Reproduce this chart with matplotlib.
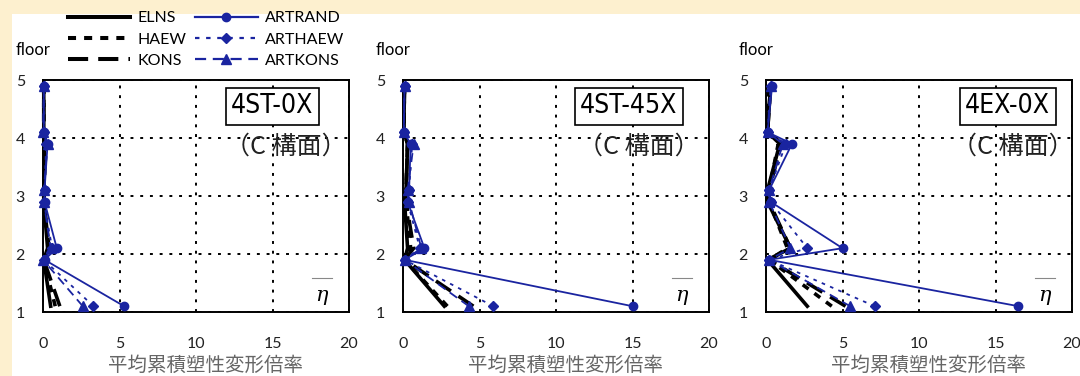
import matplotlib
matplotlib.use("Agg")
import matplotlib.pyplot as plt
from matplotlib.lines import Line2D
from matplotlib.patches import Rectangle

# ── Data ──────────────────────────────────────────────────────────────────────

# plotted heights: bottom / top end of each storey column
floor_pos = [1.1, 1.9, 2.1, 2.9, 3.1, 3.9, 4.1, 4.9]

panel_names = ["4ST-0X", "4ST-45X", "4EX-0X"]

# 4ST-0X
elns_1    = [0.5, 0.05, 0.3, 0.05, 0.05, 0.1, 0.05, 0.05]
haew_1    = [0.8, 0.05, 0.4, 0.05, 0.05, 0.15, 0.05, 0.05]
kons_1    = [1.1, 0.05, 0.4, 0.05, 0.05, 0.2, 0.05, 0.05]
artrand_1 = [5.3, 0.1, 0.9, 0.1, 0.1, 0.3, 0.05, 0.05]
arthaew_1 = [3.3, 0.05, 0.6, 0.05, 0.1, 0.2, 0.05, 0.05]
artkons_1 = [2.6, 0.0, 0.5, 0.05, 0.05, 0.3, 0.0, 0.05]

# 4ST-45X
elns_2    = [2.7, 0.1, 0.3, 0.1, 0.2, 0.3, 0.05, 0.1]
haew_2    = [2.9, 0.1, 0.5, 0.2, 0.2, 0.3, 0.05, 0.1]
kons_2    = [4.6, 0.1, 0.7, 0.2, 0.2, 0.3, 0.05, 0.1]
artrand_2 = [15.0, 0.1, 1.4, 0.3, 0.4, 0.5, 0.05, 0.1]
arthaew_2 = [5.9, 0.1, 1.1, 0.3, 0.4, 0.6, 0.05, 0.1]
artkons_2 = [4.3, 0.1, 1.2, 0.4, 0.3, 0.7, 0.05, 0.1]

# 4EX-0X
elns_3    = [2.7, 0.1, 1.6, 0.1, 0.1, 0.9, 0.1, 0.3]
haew_3    = [4.3, 0.2, 1.4, 0.2, 0.2, 0.8, 0.1, 0.2]
kons_3    = [5.2, 0.2, 1.6, 0.2, 0.2, 1.0, 0.1, 0.3]
artrand_3 = [16.5, 0.2, 5.0, 0.3, 0.2, 1.7, 0.1, 0.4]
arthaew_3 = [7.1, 0.2, 2.7, 0.3, 0.2, 1.3, 0.1, 0.3]
artkons_3 = [5.5, 0.2, 1.6, 0.2, 0.2, 1.1, 0.1, 0.3]

x_ticks = [0, 5, 10, 15, 20]
y_ticks = [1, 2, 3, 4, 5]

# ── Styles ────────────────────────────────────────────────────────────────────

BLUE = "#1a24a0"
TICK_FONT = ["Lato", "DejaVu Sans"]
JP_FONT = ["Noto Sans CJK JP", "DejaVu Sans"]

styles = {
    "ELNS":     dict(color="black", lw=2.6, ls="-"),
    "HAEW":     dict(color="black", lw=2.6, ls=(0, (2, 2))),
    "KONS":     dict(color="black", lw=2.6, ls=(0, (5, 2.5))),
    "ARTRAND":  dict(color=BLUE, lw=1.3, ls="-", marker="o", ms=6),
    "ARTHAEW":  dict(color=BLUE, lw=1.3, ls=(0, (2, 3)), marker="D", ms=5),
    "ARTKONS":  dict(color=BLUE, lw=1.3, ls=(0, (5, 3)), marker="^", ms=7),
}

panels = [
    dict(ELNS=elns_1, HAEW=haew_1, KONS=kons_1,
         ARTRAND=artrand_1, ARTHAEW=arthaew_1, ARTKONS=artkons_1),
    dict(ELNS=elns_2, HAEW=haew_2, KONS=kons_2,
         ARTRAND=artrand_2, ARTHAEW=arthaew_2, ARTKONS=artkons_2),
    dict(ELNS=elns_3, HAEW=haew_3, KONS=kons_3,
         ARTRAND=artrand_3, ARTHAEW=arthaew_3, ARTKONS=artkons_3),
]

box_x  = [0.75, 0.738, 0.79]
cstr_x = [0.794, 0.77, 0.805]

# ── Figure ────────────────────────────────────────────────────────────────────

W, H = 1080, 376
fig = plt.figure(figsize=(W / 100, H / 100), dpi=100)
fig.patch.set_facecolor("#fdf0cf")
fig.patches.append(Rectangle((12 / W, 0), 1 - 12 / W, 1 - 14 / H,
                             transform=fig.transFigure, facecolor="white",
                             edgecolor="none", zorder=-10))

lefts = [43, 403, 766]
for k, (left, data, name) in enumerate(zip(lefts, panels, panel_names)):
    ax = fig.add_axes([left / W, 1 - 312 / H, 306 / W, 232 / H])
    ax.set_xlim(0, 20)
    ax.set_ylim(1, 5)
    ax.set_xticks(x_ticks)
    ax.set_yticks(y_ticks)
    ax.tick_params(length=0)
    ax.tick_params(axis="x", pad=18)
    ax.tick_params(axis="y", pad=13)
    for lab in ax.get_xticklabels() + ax.get_yticklabels():
        lab.set_family(TICK_FONT)
        lab.set_fontsize(11.5)
        lab.set_color("#222222")
    for sp in ax.spines.values():
        sp.set_linewidth(1.4)
    ax.grid(True, color="black", ls=(0, (1.5, 3.5)), lw=1.4)

    for key in ["ELNS", "HAEW", "KONS", "ARTRAND", "ARTHAEW", "ARTKONS"]:
        st = styles[key]
        ax.plot(data[key], floor_pos, color=st["color"], lw=st["lw"],
                ls=st["ls"], marker=st.get("marker", None),
                ms=st.get("ms", 0), mfc=st["color"], mec=st["color"],
                clip_on=False, zorder=3)

    ax.text(box_x[k], 0.886, name, transform=ax.transAxes, ha="center",
            va="center", fontsize=19, family="DejaVu Sans",
            fontstretch="condensed",
            bbox=dict(boxstyle="square,pad=0.2", facecolor="white",
                      edgecolor="black", lw=1.2), zorder=5)
    ax.text(cstr_x[k], 0.715, "（C 構面）", transform=ax.transAxes,
            ha="center", va="center", fontsize=18, family=JP_FONT,
            color="#222222", zorder=5)

    ax.text(0.91, 0.07, "η", transform=ax.transAxes, ha="center",
            va="center", fontsize=15, style="italic", family="DejaVu Serif")
    ax.plot([0.88, 0.945], [0.145, 0.145], transform=ax.transAxes,
            color="#888888", lw=0.8)

    ax.text(-0.088, 1.13, "floor", transform=ax.transAxes, ha="left",
            va="center", fontsize=12, family=TICK_FONT)
    ax.text(0.53, -0.232, "平均累積塑性変形倍率", transform=ax.transAxes,
            ha="center", va="center", fontsize=14, family=JP_FONT,
            color="#666666")

# legend above first panel
handles = []
for key in ["ELNS", "HAEW", "KONS", "ARTRAND", "ARTHAEW", "ARTKONS"]:
    st = styles[key]
    handles.append(Line2D([], [], color=st["color"], lw=st["lw"] + 0.3,
                          ls=st["ls"], marker=st.get("marker", None),
                          ms=st.get("ms", 0), mfc=st["color"],
                          mec=st["color"], label=key))
fig.legend(handles=handles, loc="upper left",
           bbox_to_anchor=(68 / W, 1 - 11 / H), ncol=2, frameon=False,
           borderpad=0, borderaxespad=0, handlelength=3.9,
           handletextpad=0.45, columnspacing=0.55, labelspacing=0.45,
           prop=dict(family=TICK_FONT, size=11.5))

plt.savefig("out.png", dpi=100, facecolor=fig.get_facecolor())
